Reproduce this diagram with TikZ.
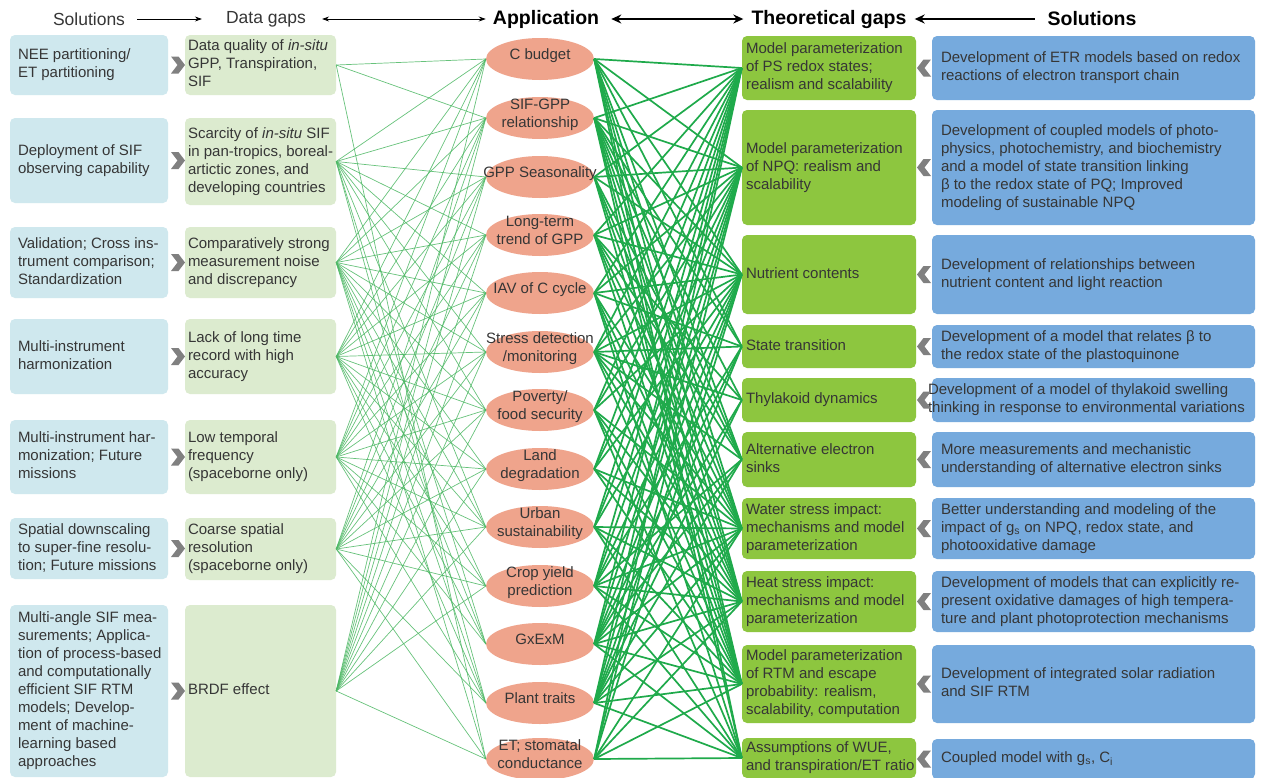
\documentclass[tikz,border=0pt]{standalone}
\usepackage{fontspec}
\setmainfont{Liberation Sans}
\usetikzlibrary{arrows.meta,shapes.geometric}
\definecolor{lblue}{HTML}{CFE8EE}
\definecolor{lgreen}{HTML}{DCEBCF}
\definecolor{salmon}{HTML}{EFA48C}
\definecolor{tgreen}{HTML}{8DC63F}
\definecolor{sblue}{HTML}{76AADD}
\definecolor{txt}{HTML}{363636}
\definecolor{thinc}{HTML}{4DB864}
\definecolor{thickc}{HTML}{1FAA4B}
\definecolor{chev}{HTML}{808080}
\newcommand\apptext[1]{\makebox[0pt]{\smash{\begin{tabular}{@{}c@{}}#1\end{tabular}}}}
\newcommand\tb[2]{\makebox[#1][l]{\begin{tabular}{@{}l@{}}#2\end{tabular}}}
\begin{document}
\begin{tikzpicture}[x=1pt,y=-1pt,
  base/.style={rectangle, rounded corners=5pt, inner ysep=0pt,
    font=\fontsize{15}{18}\selectfont, text=txt},
  solL/.style={base, fill=lblue, minimum width=158pt, inner xsep=8pt},
  gapL/.style={base, fill=lgreen, minimum width=151pt, inner xsep=3pt},
  gapT/.style={base, fill=tgreen, minimum width=174pt, inner xsep=4pt},
  solR/.style={base, fill=sblue, minimum width=323pt, inner xsep=9pt},
  app/.style={ellipse, fill=salmon, minimum width=108pt, minimum height=42pt, inner sep=0pt,
    font=\fontsize{15}{18}\selectfont, text=txt},
  hdr/.style={font=\fontsize{17.5}{20}\selectfont, text=txt, inner sep=0pt},
  hdrb/.style={hdr, font=\fontsize{19.5}{22}\selectfont\bfseries, text=black},
  thinline/.style={thinc, line width=0.7pt, opacity=0.85},
  thickline/.style={thickc, line width=1.7pt},
  smallhead/.style={line width=0.8pt},
  bighead/.style={line width=1.8pt}
]
\useasboundingbox[fill=white] (0,0) rectangle (1267,777);

% headers
\node[hdr] (h1) at (89,19) {Solutions};
\node[hdr] (h2) at (266,19) {Data gaps};
\node[hdrb] (h3) at (546,19) {Application};
\node[hdrb] (h4) at (829,19) {Theoretical gaps};
\node[hdrb] (h5) at (1092,19) {Solutions};
\draw[smallhead, -{Stealth[length=7pt,width=5pt]}, shorten <=12pt, shorten >=24pt] (h1) -- (h2);
\draw[smallhead, {Stealth[length=7pt,width=5pt]}-{Stealth[length=7pt,width=5pt]}, shorten <=16pt, shorten >=7pt] (h2) -- (h3);
\draw[bighead, {Stealth[length=10pt,width=9pt]}-{Stealth[length=10pt,width=9pt]}, shorten <=12pt, shorten >=8pt] (h3) -- (h4);
\draw[bighead, {Stealth[length=10pt,width=9pt]}-, shorten <=8pt, shorten >=12pt] (h4) -- (h5);

% left solutions
\node[solL, minimum height=60pt] (s1) at (89,65) {\tb{142pt}{NEE partitioning/\\ET partitioning}};
\node[solL, minimum height=85pt] (s2) at (89,160.5) {\tb{142pt}{Deployment of SIF\\observing capability}};
\node[solL, minimum height=71pt] (s3) at (89,262.5) {\tb{142pt}{Validation; Cross ins-\\trument comparison;\\Standardization}};
\node[solL, minimum height=75pt] (s4) at (89,356.5) {\tb{142pt}{Multi-instrument\\harmonization}};
\node[solL, minimum height=74pt] (s5) at (89,457) {\tb{142pt}{Multi-instrument har-\\monization; Future\\missions}};
\node[solL, minimum height=61pt] (s6) at (89,548.5) {\tb{142pt}{Spatial downscaling\\to super-fine resolu-\\tion; Future missions}};
\node[solL, minimum height=172pt] (s7) at (89,691) {\tb{142pt}{Multi-angle SIF mea-\\surements; Applica-\\tion of process-based\\and computationally\\efficient SIF RTM\\models; Develop-\\ment of machine-\\learning based\\approaches}};

% data gaps
\node[gapL, minimum height=60pt] (d1) at (260.5,65) {\tb{145pt}{Data quality of \textit{in-situ}\\GPP, Transpiration,\\SIF}};
\node[gapL, minimum height=87pt] (d2) at (260.5,161.5) {\tb{145pt}{Scarcity of \textit{in-situ} SIF\\in pan-tropics, boreal-\\artictic zones, and\\developing countries}};
\node[gapL, minimum height=71pt] (d3) at (260.5,262.5) {\tb{145pt}{Comparatively strong\\measurement noise\\and discrepancy}};
\node[gapL, minimum height=75pt] (d4) at (260.5,356.5) {\tb{145pt}{Lack of long time\\record with high\\accuracy}};
\node[gapL, minimum height=74pt] (d5) at (260.5,457) {\tb{145pt}{Low temporal\\frequency\\(spaceborne only)}};
\node[gapL, minimum height=62pt] (d6) at (260.5,549) {\tb{145pt}{Coarse spatial\\resolution\\(spaceborne only)}};
\node[gapL, minimum height=172pt] (d7) at (260.5,691) {\tb{145pt}{BRDF effect}};

% applications
\node[app] (e1) at (540,59) {\apptext{C budget}};
\node[app] (e2) at (540,118) {\apptext{SIF-GPP\\relationship}};
\node[app] (e3) at (540,177) {\apptext{GPP Seasonality}};
\node[app] (e4) at (540,235) {\apptext{Long-term\\trend of GPP}};
\node[app] (e5) at (540,293) {\apptext{IAV of C cycle}};
\node[app] (e6) at (540,352) {\apptext{Stress detection\\/monitoring}};
\node[app] (e7) at (540,410) {\apptext{Poverty/\\food security}};
\node[app] (e8) at (540,469) {\apptext{Land\\degradation}};
\node[app] (e9) at (540,527) {\apptext{Urban\\sustainability}};
\node[app] (e10) at (540,586) {\apptext{Crop yield\\prediction}};
\node[app] (e11) at (540,644) {\apptext{GxExM}};
\node[app] (e12) at (540,703) {\apptext{Plant traits}};
\node[app] (e13) at (540,759) {\apptext{ET; stomatal\\conductance}};

% theoretical gaps
\node[gapT, minimum height=64pt] (t1) at (829,68) {\tb{166pt}{Model parameterization\\of PS redox states;\\realism and scalability}};
\node[gapT, minimum height=115pt] (t2) at (829,167.5) {\tb{166pt}{Model parameterization\\of NPQ: realism and\\scalability}};
\node[gapT, minimum height=79pt] (t3) at (829,274.5) {\tb{166pt}{Nutrient contents}};
\node[gapT, minimum height=43pt] (t4) at (829,346.5) {\tb{166pt}{State transition}};
\node[gapT, minimum height=44pt] (t5) at (829,400) {\tb{166pt}{Thylakoid dynamics}};
\node[gapT, minimum height=55pt] (t6) at (829,459.5) {\tb{166pt}{Alternative electron\\sinks}};
\node[gapT, minimum height=61pt] (t7) at (829,528.5) {\tb{166pt}{Water stress impact:\\mechanisms and model\\parameterization}};
\node[gapT, minimum height=61pt] (t8) at (829,601.5) {\tb{166pt}{Heat stress impact:\\mechanisms and model\\parameterization}};
\node[gapT, minimum height=78pt] (t9) at (829,684) {\tb{166pt}{Model parameterization\\of RTM and escape\\probability: realism,\\scalability, computation}};
\node[gapT, minimum height=40pt] (t10) at (829,758) {\tb{166pt}{Assumptions of WUE,\\and transpiration/ET ratio}};

% right solutions
\node[solR, minimum height=64pt] (r1) at (1093.5,68) {\tb{305pt}{Development of ETR models based on redox\\reactions of electron transport chain}};
\node[solR, minimum height=115pt] (r2) at (1093.5,167.5) {\tb{305pt}{Development of coupled models of photo-\\physics, photochemistry, and biochemistry\\and a model of state transition linking\\β to the redox state of PQ; Improved\\modeling of sustainable NPQ}};
\node[solR, minimum height=79pt] (r3) at (1093.5,274.5) {\tb{305pt}{Development of relationships between\\nutrient content and light reaction}};
\node[solR, minimum height=43pt] (r4) at (1093.5,346.5) {\tb{305pt}{Development of a model that relates β to\\the redox state of the plastoquinone}};
\node[solR, minimum height=44pt, inner xsep=-4pt] (r5) at (1093.5,400) {\tb{331pt}{Development of a model of thylakoid swelling\\thinking in response to environmental variations}};
\node[solR, minimum height=55pt] (r6) at (1093.5,459.5) {\tb{305pt}{More measurements and mechanistic\\understanding of alternative electron sinks}};
\node[solR, minimum height=61pt] (r7) at (1093.5,528.5) {\tb{305pt}{Better understanding and modeling of the\\impact of g\textsubscript{s} on NPQ, redox state, and\\photooxidative damage}};
\node[solR, minimum height=61pt] (r8) at (1093.5,601.5) {\tb{305pt}{Development of models that can explicitly re-\\present oxidative damages of high tempera-\\ture and plant photoprotection mechanisms}};
\node[solR, minimum height=78pt] (r9) at (1093.5,684) {\tb{305pt}{Development of integrated solar radiation\\and SIF RTM}};
\node[solR, minimum height=40pt] (r10) at (1093.5,759) {\tb{305pt}{Coupled model with g\textsubscript{s}, C\textsubscript{i}}};

% chevrons
\foreach \y in {65,160.5,262.5,356.5,457,548.5,691}
  \fill[chev] (171,\y-8.5) -- (178.5,\y-8.5) -- (185,\y) -- (178.5,\y+8.5) -- (171,\y+8.5) -- (177.5,\y) -- cycle;
\foreach \y in {68,167.5,274.5,346.5,400,459.5,528.5,601.5,684,759}
  \fill[chev] (931,\y-8.5) -- (923.5,\y-8.5) -- (917,\y) -- (923.5,\y+8.5) -- (931,\y+8.5) -- (924.5,\y) -- cycle;

% data gaps -> applications
\foreach \d/\l in {1/{1,2,13},
                   2/{1,2,3,4,5,6,7,9,11,12},
                   3/{1,2,3,4,5,6,7,8,9,10,11,12,13},
                   4/{1,2,3,4,5,6,7,8,9,10,11,12},
                   5/{1,2,3,4,5,6,7,8,9,10,11,12},
                   6/{2,3,4,5,6,7,8,9,10,12,13},
                   7/{1,2,3,4,5,6,7,8,9,10,13}}{
  \foreach \e in \l { \draw[thinline] (d\d.east) -- (e\e.west); }
}
% applications -> theoretical gaps
\foreach \e/\l in {1/{1,2,3,4,6,7,8,9,10},
                   2/{1,2,3,4,5,6,7,8,9,10},
                   3/{1,2,3,6,7,8,9},
                   4/{1,2,3,5,6,7,8,9},
                   5/{1,2,3,4,7,8,9,10},
                   6/{1,2,3,4,5,6,7,8,9},
                   7/{1,2,3,7,8,9,10},
                   8/{1,2,3,7,8,9},
                   9/{1,2,3,7,8,9,10},
                   10/{1,2,3,4,6,7,8,9,10},
                   11/{1,2,3,4,5,6,7,8,9,10},
                   12/{1,2,3,4,5,6,7,8,9,10},
                   13/{1,2,3,7,8,9,10}}{
  \foreach \t in \l { \draw[thickline] (e\e.east) -- (t\t.west); }
}
\end{tikzpicture}
\end{document}
